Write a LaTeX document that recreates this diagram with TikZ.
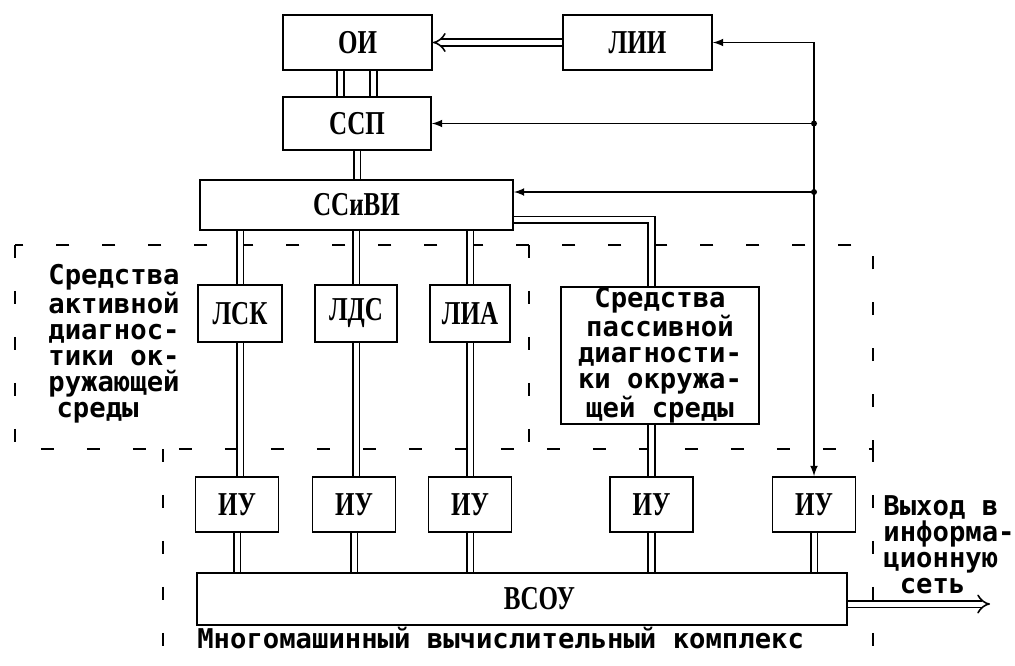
\documentclass[tikz,border=0pt]{standalone}
\usepackage{fontspec}
\setmainfont{Liberation Serif}
\newfontfamily\typefont{DejaVu Sans Mono}
\newfontfamily\labelfont[FakeStretch=0.75]{Liberation Serif}
\usepackage{tikz}
\usetikzlibrary{
  % tips for the double lines
  arrows.meta,%
  calc,%
  positioning
}
\tikzset{>=latex}
\tikzset{blk/.style={draw, line width=1.1pt, inner sep=0pt,
    font=\labelfont\bfseries\fontsize{19}{19}\selectfont}}
\tikzset{txt/.style={inner sep=0pt,
    font=\typefont\bfseries\fontsize{15.5}{14.8}\selectfont}}
\tikzset{dbl/.style={double, double distance=0.1cm, line width=0.9pt}}
\tikzset{zone/.style={line width=1.2pt, dash pattern=on 0.26cm off 0.66cm}}

\begin{document}
\begin{tikzpicture}[x=0.02cm, y=-0.02cm]
  \useasboundingbox (0,0) rectangle (1015,666);
  % dashed zones
  \draw[zone] (15,245) rectangle (873,449);
  \draw[zone] (529,245) -- (529,449);
  \draw[zone] (163,449) -- (163,666);
  \draw[zone] (873,449) -- (873,666);
  % blocks
  \node[blk, minimum width=2.98cm, minimum height=1.1cm] (oi) at (357.5,42.5) {ОИ};
  \node[blk, minimum width=2.98cm, minimum height=1.1cm] (lii) at (637.5,42.5) {ЛИИ};
  \node[blk, minimum width=2.96cm, minimum height=1.06cm] (ssp) at (357,123.5) {ССП};
  \node[blk, minimum width=6.26cm, minimum height=1cm] (ssivi) at (356.5,205) {ССиВИ};
  \node[blk, minimum width=1.68cm, minimum height=1.14cm] (lsk) at (240,313.5) {ЛСК};
  \node[blk, minimum width=1.64cm, minimum height=1.14cm] (lds) at (356,313.5) {ЛДС};
  \node[blk, minimum width=1.6cm, minimum height=1.14cm] (lia) at (470,313.5) {ЛИА};
  \node[blk, txt, align=center, minimum width=3.96cm, minimum height=2.74cm] (pass) at (660,355.5)
    {Средства\\пассивной\\диагности-\\ки окружа-\\щей среды};
  \foreach \n/\x in {1/237, 2/354, 3/470, 4/651.5, 5/814}
    \node[blk, minimum width=1.66cm, minimum height=1.1cm] (iu\n) at (\x,504.5) {ИУ};
  \node[blk, minimum width=13cm, minimum height=1.04cm] (vsou) at (522,599) {\hspace{0.7cm}ВСОУ};
  % texts
  \node[txt, align=left] (active) at (114,344)
    {Средства\\активной\\диагнос-\\тики ок-\\ружающей\\\hspace{0.3em}среды};
  \node[txt, align=left] (output) at (949,545) {Выход в\\информа-\\ционную\\\hspace{0.6em}сеть};
  \node[txt, anchor=base west] (mvk) at (197,648) {Многомашинный вычислительный комплекс};
  % double links
  \draw[dbl, -{Implies}] (lii.west) -- (oi.east);
  \draw[dbl] ([xshift=-0.34cm]oi.south) -- ([xshift=-0.34cm]oi.south |- ssp.north);
  \draw[dbl] ([xshift=0.32cm]oi.south) -- ([xshift=0.32cm]oi.south |- ssp.north);
  \draw[dbl] (ssp.south) -- (ssp.south |- ssivi.north);
  \foreach \b/\i in {lsk/iu1, lds/iu2, lia/iu3} {
    \draw[dbl] (\b.north |- ssivi.south) -- (\b.north);
    \draw[dbl] (\b.south) -- (\b.south |- \i.north);
  }
  \draw[dbl] ([yshift=-0.3cm]ssivi.east) -| (iu4.north |- pass.north);
  \draw[dbl] (iu4.north |- pass.south) -- (iu4.north);
  \foreach \i in {1,...,5}
    \draw[dbl] (iu\i.south) -- (iu\i.south |- vsou.north);
  \coordinate (net) at (990,604);
  \draw[dbl, -{Implies}] (vsou.east |- net) -- (net);
  % control bus
  \coordinate (bt) at (iu5.north |- lii.east);
  \coordinate (cin) at ([yshift=0.26cm]ssivi.east);
  \draw[line width=1pt, <->] (lii.east) -- (bt) -- (iu5.north);
  \draw[line width=1pt, ->] (bt |- ssp.east) -- (ssp.east);
  \draw[line width=1pt, ->] (bt |- cin) -- (cin);
  \fill (bt |- ssp.east) circle (0.06cm);
  \fill (bt |- cin) circle (0.06cm);
\end{tikzpicture}
\end{document}
